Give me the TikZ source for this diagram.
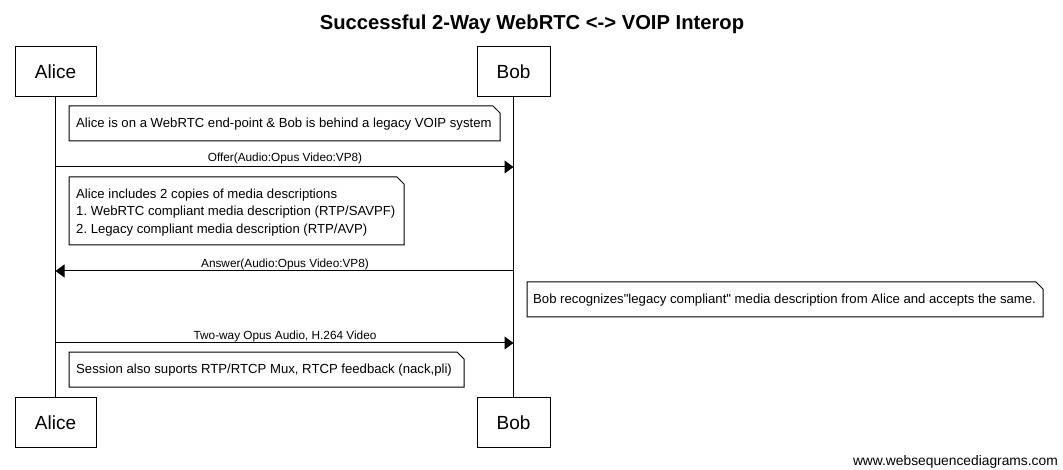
\documentclass[tikz,border=0pt]{standalone}
\usepackage{fontspec}
\setmainfont{Liberation Sans}[Ligatures=TeXOff]
\usetikzlibrary{arrows.meta}
\begin{document}
\frenchspacing
\begin{tikzpicture}[x=1pt,y=-1pt,
  actor/.style={draw,line width=1pt,minimum width=#1,minimum height=50pt,inner sep=0pt,font=\fontsize{19}{22}\selectfont,anchor=center},
  lifeline/.style={line width=1pt},
  msg/.style={line width=1pt,-{Triangle[length=9pt,width=13pt]}},
  msglabel/.style={font=\fontsize{11.8}{14}\selectfont,inner sep=0pt},
  notetext/.style={font=\fontsize{13.15}{17.5}\selectfont,inner sep=0pt,align=left,anchor=west},
  notebox/.style={line width=1pt,fill=white}
]
\useasboundingbox (0,0) rectangle (1063,470);
% title
\node[font=\bfseries\fontsize{20.2}{23}\selectfont] (title) at (532,24) {Successful 2-Way WebRTC <-> VOIP Interop};
% actors
\node[actor=81pt] (aliceT) at (55.5,72) {Alice};
\node[actor=73pt] (bobT) at (513.5,72) {Bob};
\node[actor=81pt] (aliceB) at (55.5,422.5) {Alice};
\node[actor=73pt] (bobB) at (513.5,422.5) {Bob};
\draw[lifeline] (aliceT.south) -- (aliceB.north);
\draw[lifeline] (bobT.south) -- (bobB.north);
% note 1
\draw[notebox] (69,106) -- (493,106) -- (500,113) -- (500,141) -- (69,141) -- cycle;
\node[notetext] (n1) at (76,124) {Alice is on a WebRTC end-point \& Bob is behind a legacy VOIP system};
% offer
\coordinate (o1) at (aliceT.south |- 0,167);
\coordinate (o2) at (bobT.south |- 0,167);
\draw[msg] (o1) -- (o2);
\node[msglabel] (l1) at (285,158) {Offer(Audio:Opus Video:VP8)};
% note 2
\draw[notebox] (69,177) -- (397,177) -- (404,184) -- (404,245) -- (69,245) -- cycle;
\node[notetext] (n2) at (76,212.5) {Alice includes 2 copies of media descriptions\\1. WebRTC compliant media description (RTP/SAVPF)\\2. Legacy compliant media description (RTP/AVP)};
% answer
\coordinate (a1) at (bobT.south |- 0,271);
\coordinate (a2) at (aliceT.south |- 0,271);
\draw[msg] (a1) -- (a2);
\node[msglabel] (l2) at (285,264) {Answer(Audio:Opus Video:VP8)};
% note 3
\draw[notebox] (527,282) -- (1036,282) -- (1043,289) -- (1043,317) -- (527,317) -- cycle;
\node[notetext] (n3) at (533,300) {Bob recognizes"legacy compliant" media description from Alice and accepts the same.};
% two-way
\coordinate (t1) at (aliceT.south |- 0,343);
\coordinate (t2) at (bobT.south |- 0,343);
\draw[msg] (t1) -- (t2);
\node[msglabel] (l3) at (285,336) {Two-way Opus Audio, H.264 Video};
% note 4
\draw[notebox] (69,352) -- (457,352) -- (464,359) -- (464,387) -- (69,387) -- cycle;
\node[notetext] (n4) at (76,370) {Session also suports RTP/RTCP Mux, RTCP feedback (nack,pli)};
% footer
\node[font=\fontsize{13.8}{15}\selectfont,anchor=east,inner sep=0pt] (footer) at (1058,462) {www.websequencediagrams.com};
\end{tikzpicture}
\end{document}
